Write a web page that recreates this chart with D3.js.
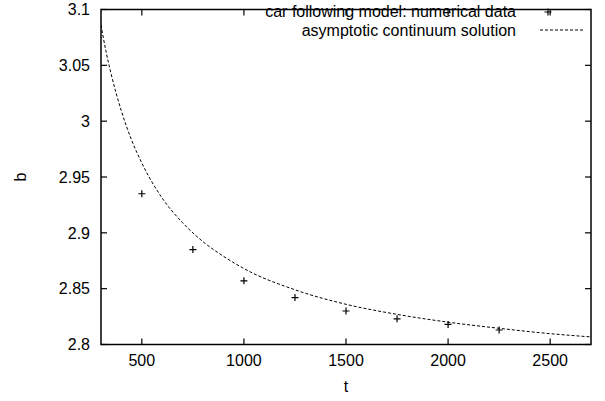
<!DOCTYPE html>
<html><head><meta charset="utf-8">
<script src="https://cdn.jsdelivr.net/npm/d3@7"></script>
<style>
html,body{margin:0;padding:0;background:#fff;}
text{font-family:"Liberation Sans",Arial,Helvetica,sans-serif;fill:#000;}
</style></head>
<body><svg id="c" width="605" height="401"></svg>
<script>
// numerical data (car following model)
const dataT = [500, 750, 1000, 1250, 1500, 1750, 2000, 2250];
const dataB = [2.935, 2.885, 2.857, 2.842, 2.830, 2.823, 2.818, 2.813];
// asymptotic continuum solution
const curveT = [300, 325, 350, 375, 400, 450, 500, 600, 700, 800, 900, 1000, 1250, 1500, 1750, 2000, 2250, 2500, 2700];
const curveB = [3.086, 3.062, 3.042, 3.0245, 3.009, 2.983, 2.9625, 2.931, 2.909, 2.892, 2.879, 2.868, 2.849, 2.836, 2.827, 2.820, 2.8145, 2.8097, 2.8068];
const xTicks = [500, 1000, 1500, 2000, 2500];
const yTicks = [2.8, 2.85, 2.9, 2.95, 3.0, 3.05, 3.1];
const yTickLabels = ["2.8", "2.85", "2.9", "2.95", "3", "3.05", "3.1"];
const legendLabels = ["car following model: numerical data", "asymptotic continuum solution"];
const xTitle = "t", yTitle = "b";

const svg = d3.select("#c");
const L = 101, R = 591, T = 9.5, B = 344.5;
const x = d3.scaleLinear().domain([300, 2700]).range([L, R]);
const y = d3.scaleLinear().domain([2.8, 3.1]).range([B, T]);
const tl = 6;
const fs = 16;

const g = svg.append("g");
svg.append("defs").append("clipPath").attr("id","clip").append("rect")
  .attr("x", L).attr("y", T).attr("width", R - L).attr("height", B - T);

xTicks.forEach(v => {
  g.append("line").attr("x1", x(v)).attr("x2", x(v)).attr("y1", B).attr("y2", B - tl).attr("stroke","#000").attr("stroke-width",1.2);
  g.append("line").attr("x1", x(v)).attr("x2", x(v)).attr("y1", T).attr("y2", T + tl).attr("stroke","#000").attr("stroke-width",1.2);
  g.append("text").attr("x", x(v)).attr("y", 366).attr("text-anchor","middle").attr("font-size", fs).text(v);
});
yTicks.forEach((v, i) => {
  g.append("line").attr("x1", L).attr("x2", L + tl).attr("y1", y(v)).attr("y2", y(v)).attr("stroke","#000").attr("stroke-width",1.2);
  g.append("line").attr("x1", R).attr("x2", R - tl).attr("y1", y(v)).attr("y2", y(v)).attr("stroke","#000").attr("stroke-width",1.2);
  g.append("text").attr("x", 90).attr("y", y(v)).attr("dy","0.36em").attr("text-anchor","end").attr("font-size", fs).text(yTickLabels[i]);
});

g.append("rect").attr("x", L).attr("y", T).attr("width", R - L).attr("height", B - T)
  .attr("fill","none").attr("stroke","#000").attr("stroke-width",1.5);

g.append("text").attr("x", x(1500)).attr("y", 392).attr("text-anchor","middle").attr("font-size", fs).text(xTitle);
g.append("text").attr("transform", `translate(26,${(T + B) / 2}) rotate(-90)`).attr("text-anchor","middle").attr("font-size", fs).text(yTitle);

const line = d3.line().x((d, i) => x(curveT[i])).y((d, i) => y(curveB[i])).curve(d3.curveMonotoneX);
g.append("path").datum(curveT).attr("d", line).attr("fill","none").attr("stroke","#000")
  .attr("stroke-width",1).attr("stroke-dasharray","3,2").attr("clip-path","url(#clip)");

const plus = (px, py) => {
  g.append("path").attr("d", `M${px - 3.5},${py}H${px + 3.5}M${px},${py - 3.5}V${py + 3.5}`)
    .attr("stroke","#000").attr("stroke-width",1.2).attr("fill","none");
};
dataT.forEach((t, i) => plus(x(t), y(dataB[i])));

// legend
g.append("text").attr("x", 516).attr("y", 11.5).attr("dy","0.36em").attr("text-anchor","end").attr("font-size", 16).text(legendLabels[0]);
g.append("text").attr("x", 516).attr("y", 30).attr("dy","0.36em").attr("text-anchor","end").attr("font-size", 16).text(legendLabels[1]);
plus(548, 12);
g.append("line").attr("x1", 540).attr("x2", 583).attr("y1", 30).attr("y2", 30).attr("stroke","#000").attr("stroke-width",1).attr("stroke-dasharray","3,2");
</script></body></html>
